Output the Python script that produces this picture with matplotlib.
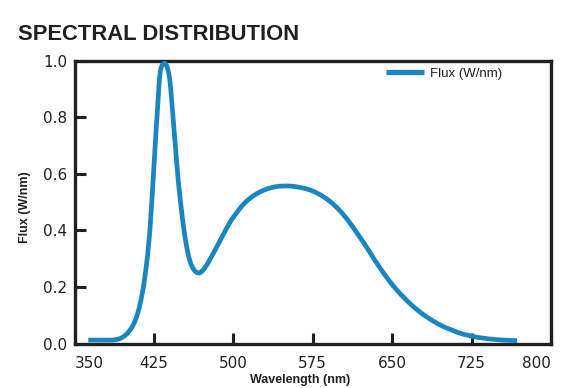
import matplotlib
matplotlib.use("Agg")
import matplotlib.pyplot as plt

# Data
wavelength = [363, 370, 378, 384, 388, 391, 394, 397, 400, 403, 405, 407, 409, 411, 413,
              415, 417, 419, 421, 423, 425, 427, 428.5, 430, 431, 432, 433, 434, 435, 436,
              437, 438, 439, 440, 441, 442, 443.5, 445, 446.5, 448, 450, 452, 454, 456,
              458, 460, 462, 464, 466, 468, 470, 472, 475, 478, 482, 486, 490, 494, 498,
              503, 508, 513, 518, 523, 528, 533, 538, 543, 548, 553, 558, 563, 568, 573,
              578, 583, 588, 593, 598, 603, 608, 613, 618, 623, 628, 633, 638, 643, 648,
              653, 658, 663, 668, 673, 678, 683, 688, 694, 700, 706, 712, 718, 724, 730,
              736, 742, 748, 755, 762, 768]
flux = [0.012, 0.012, 0.012, 0.012, 0.013, 0.015, 0.019, 0.026, 0.036, 0.05, 0.062, 0.078, 0.098, 0.124, 0.158,
        0.197, 0.25, 0.31, 0.39, 0.5, 0.625, 0.75, 0.835, 0.925, 0.962, 0.978, 0.986, 0.99, 0.991, 0.989,
        0.983, 0.972, 0.956, 0.932, 0.895, 0.85, 0.78, 0.71, 0.64, 0.575, 0.505, 0.44, 0.385, 0.34,
        0.305, 0.28, 0.265, 0.255, 0.25, 0.249, 0.254, 0.262, 0.278, 0.298, 0.325, 0.353, 0.382, 0.41, 0.436,
        0.462, 0.486, 0.505, 0.52, 0.532, 0.541, 0.548, 0.553, 0.556, 0.557, 0.557, 0.555, 0.552, 0.548, 0.542,
        0.534, 0.524, 0.512, 0.497, 0.48, 0.46, 0.437, 0.411, 0.384, 0.357, 0.328, 0.298, 0.27, 0.243, 0.218,
        0.195, 0.174, 0.155, 0.137, 0.121, 0.106, 0.093, 0.081, 0.068, 0.057, 0.048, 0.039, 0.032, 0.027, 0.022,
        0.019, 0.016, 0.014, 0.012, 0.011, 0.01]
x_ticks = [350, 425, 500, 575, 650, 725, 800]
y_ticks = [0.0, 0.2, 0.4, 0.6, 0.8, 1.0]
series_name = "Flux (W/nm)"

W, H = 563, 388
fig = plt.figure(figsize=(W / 100, H / 100), dpi=100)
fig.patch.set_facecolor("white")

L, R, T, B = 74.5, 551.0, 60.7, 343.5
ax = fig.add_axes([L / W, 1 - B / H, (R - L) / W, (B - T) / H])

dark = "#231f20"
blue = "#1a86c0"

ax.plot(wavelength, flux, color=blue, lw=3.4, solid_capstyle="butt",
        solid_joinstyle="round", label=series_name, zorder=3)

ax.set_xlim(350, 800)
ax.set_ylim(0, 1.0)

for s in ax.spines.values():
    s.set_linewidth(2.4)
    s.set_color(dark)

ax.set_xticks(x_ticks)
ax.set_xticklabels([str(v) for v in x_ticks])
ax.set_yticks(y_ticks)
ax.set_yticklabels([f"{v:.1f}" for v in y_ticks])
ax.tick_params(axis="both", direction="in", length=8, width=2.2, color=dark,
               labelsize=11, labelcolor=dark)
ax.tick_params(axis="x", pad=9)
ax.tick_params(axis="y", pad=5)
xl = ax.get_xticklabels()
xl[0].set_ha("left")
xl[-1].set_ha("right")
for lab in ax.get_xticklabels() + ax.get_yticklabels():
    lab.set_fontfamily("DejaVu Sans")

ax.set_xlabel("Wavelength (nm)", fontfamily="Liberation Sans", fontweight="bold",
              fontsize=9, color=dark)
ax.xaxis.set_label_coords((300 - L) / (R - L), (B - 374.5) / (B - T))
ax.set_ylabel("Flux (W/nm)", fontfamily="Liberation Sans", fontweight="bold",
              fontsize=9, color=dark)
ax.yaxis.set_label_coords((31 - L) / (R - L), (B - 207) / (B - T))

leg = ax.legend(loc="center left", bbox_to_anchor=(386 / W, 1 - 74 / H),
                bbox_transform=fig.transFigure, frameon=False, borderpad=0,
                borderaxespad=0, handlelength=2.9, handletextpad=0.4,
                prop={"family": "Liberation Sans", "size": 9.5})
for h in leg.get_lines():
    h.set_linewidth(3.8)
for t in leg.get_texts():
    t.set_color(dark)

fig.text(18 / W, 1 - 35 / H, "SPECTRAL DISTRIBUTION", fontfamily="Liberation Sans",
         fontweight="bold", fontsize=15.8, color=dark, ha="left", va="center")

fig.savefig("out.png", dpi=100)
